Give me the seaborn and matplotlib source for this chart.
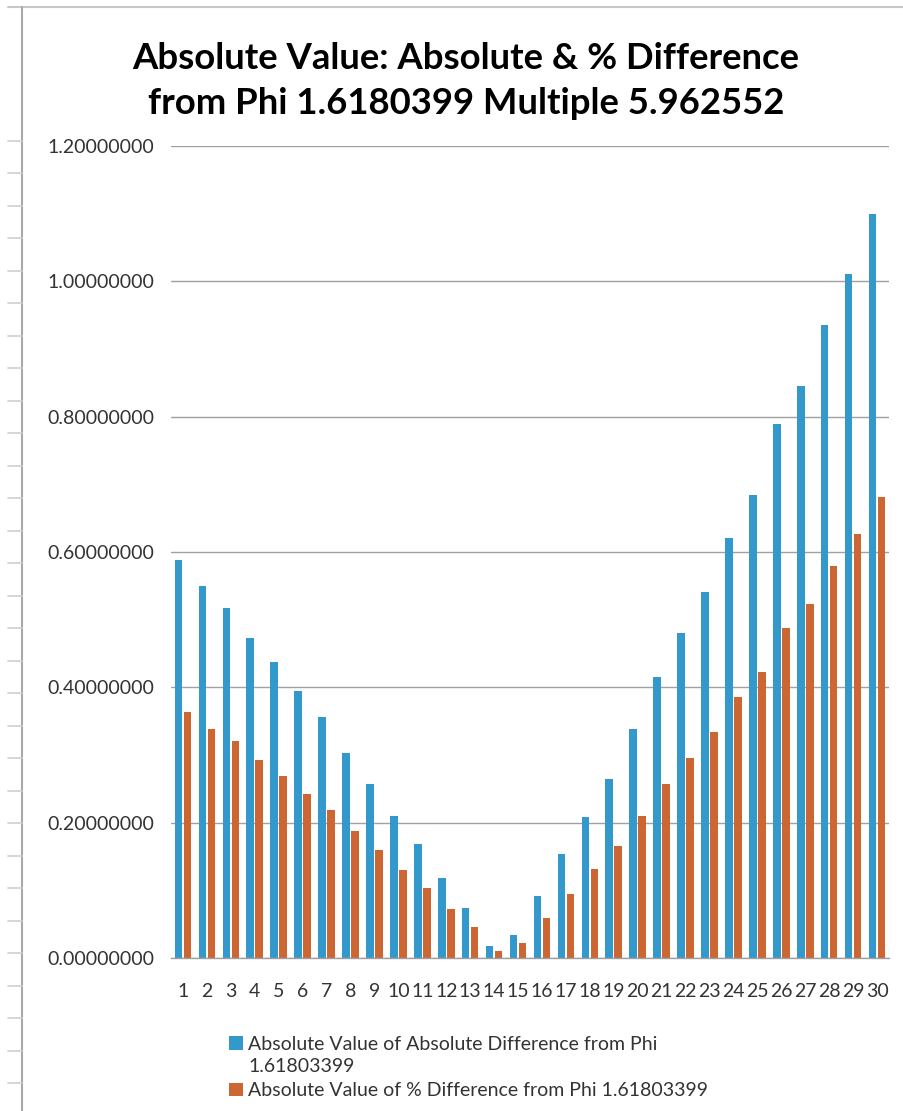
import numpy as np
import pandas as pd
import seaborn as sns
import matplotlib.pyplot as plt
from matplotlib.lines import Line2D
from matplotlib.patches import Patch

# 数据
categories = [str(i) for i in range(1, 31)]
abs_diff = [0.588, 0.550, 0.517, 0.473, 0.437, 0.395, 0.356, 0.303, 0.257, 0.210,
            0.168, 0.118, 0.074, 0.018, 0.034, 0.092, 0.154, 0.209, 0.264, 0.339,
            0.416, 0.480, 0.541, 0.621, 0.684, 0.789, 0.846, 0.935, 1.011, 1.100]
pct_diff = [0.364, 0.338, 0.320, 0.293, 0.269, 0.242, 0.219, 0.188, 0.159, 0.130,
            0.104, 0.073, 0.046, 0.010, 0.022, 0.059, 0.095, 0.131, 0.165, 0.210,
            0.257, 0.296, 0.334, 0.385, 0.423, 0.488, 0.523, 0.579, 0.626, 0.681]
series_names = ['Absolute Value of Absolute Difference from Phi',
                'Absolute Value of % Difference from Phi 1.61803399']
name_tail = '1.61803399'  # 第一个图例项换行的部分
colors = ['#3399CC', '#CC6633']
y_ticks = [0.0, 0.2, 0.4, 0.6, 0.8, 1.0, 1.2]

title = 'Absolute Value: Absolute & % Difference\nfrom Phi 1.6180399 Multiple 5.962552'

df = pd.DataFrame({
    'n': categories * 2,
    'value': abs_diff + pct_diff,
    'series': [series_names[0]] * 30 + [series_names[1]] * 30,
})

sns.set_style('white')
plt.rcParams['font.family'] = ['Lato', 'DejaVu Sans']

W, H = 904, 1111
fig = plt.figure(figsize=(W / 100, H / 100), dpi=100)
ax = fig.add_axes([171 / W, 1 - 958 / H, (889 - 171) / W, (958 - 146) / H])

sns.barplot(data=df, x='n', y='value', hue='series', order=categories,
            hue_order=series_names, palette=colors, saturation=1,
            width=0.75, gap=0.15, edgecolor='none', legend=False, ax=ax)

ax.set_xlim(-0.5, 29.5)
ax.set_ylim(0, 1.2)
ax.set_yticks(y_ticks)
ax.set_yticklabels(['{:.8f}'.format(v) for v in y_ticks])
ax.set_xlabel('')
ax.set_ylabel('')
ax.yaxis.grid(True, color='#A0A0A0', linewidth=1.0)
ax.set_axisbelow(True)
for s in ['top', 'right', 'left']:
    ax.spines[s].set_visible(False)
ax.spines['bottom'].set_color('#A0A0A0')
ax.spines['bottom'].set_linewidth(1.0)
ax.tick_params(axis='y', length=0, pad=12, labelsize=14, labelcolor='#333333')
ax.tick_params(axis='x', length=0, pad=18, labelsize=14, labelcolor='#333333')

# 标题
fig.text(466 / W, 1 - 81 / H, title, ha='center', va='center', fontsize=26.3,
         fontweight='bold', color='black', linespacing=1.45)

# 图例
handles = [Patch(facecolor=c, edgecolor='none') for c in colors]
leg = fig.legend(handles, series_names, loc='upper left',
                 bbox_to_anchor=(229 / W, 1 - 1036 / H), frameon=False, fontsize=14,
                 borderpad=0, borderaxespad=0, handlelength=0.7, handleheight=0.7,
                 handletextpad=0.3, labelspacing=1.5, labelcolor='#333333')
fig.canvas.draw()
bb = leg.get_texts()[0].get_window_extent()
fig.text(bb.x0 / W, 1 - 1067 / H, name_tail, ha='left', va='center',
         fontsize=14, color='#333333')

# 边框装饰
fig.add_artist(Line2D([8 / W, 1], [1 - 7 / H] * 2, color='#C8C8C8', lw=1.5,
                      transform=fig.transFigure))
fig.add_artist(Line2D([22 / W] * 2, [0, 1 - 7 / H], color='#A8A8A8', lw=1.5,
                      transform=fig.transFigure))
for k in range(30):
    yy = 1 - (140.7 + 32.5 * k) / H
    fig.add_artist(Line2D([8 / W, 22 / W], [yy, yy], color='#D0D0D0', lw=1.2,
                          transform=fig.transFigure))

fig.savefig('out.png', dpi=100)
